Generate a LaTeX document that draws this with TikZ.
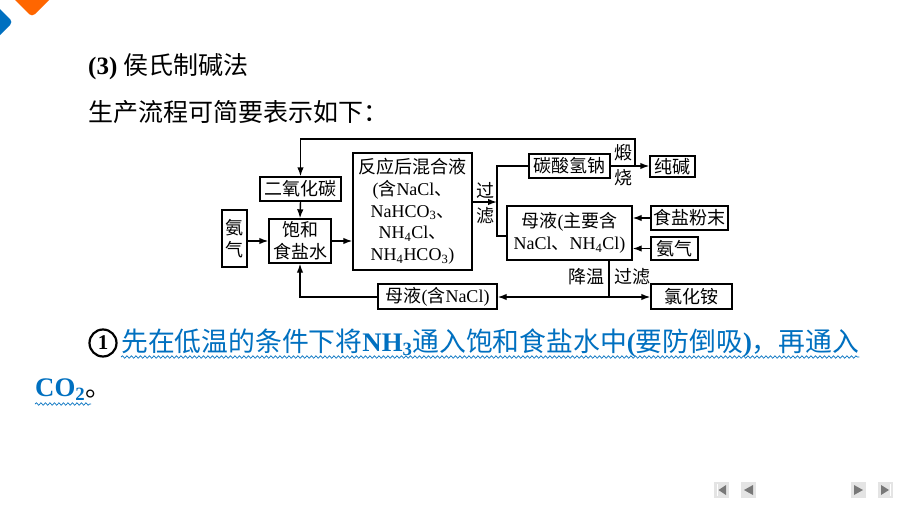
\documentclass[tikz,border=0pt]{standalone}
\usepackage{fontspec}
\setmainfont{Liberation Serif}
\newfontfamily\cjk{Noto Sans CJK SC}
\usetikzlibrary{arrows.meta,decorations.pathmorphing,calc}
\definecolor{hlblue}{RGB}{0,112,192}
\definecolor{logoorange}{RGB}{255,102,0}
\definecolor{logoblue}{RGB}{0,112,192}
\definecolor{navfill}{RGB}{228,228,228}
\definecolor{navtri}{RGB}{120,120,120}
\newcommand\zh[1]{{\cjk #1}}
\newcommand\dfont{\fontsize{18}{21.7}\selectfont}
\begin{document}
\begin{tikzpicture}[x=1pt,y=-1pt,
  box/.style={draw, line width=1.4pt, inner sep=0pt, font=\dfont, align=center},
  arr/.style={line width=1.4pt, -{Latex[length=9pt,width=6.5pt]}},
  ln/.style={line width=1.4pt},
  lbl/.style={inner sep=0pt, font=\dfont, align=center},
  navbtn/.style={fill=navfill, minimum width=15pt, minimum height=16pt, inner sep=0pt},
  wave/.style={hlblue, line width=0.7pt, decorate, decoration={snake, amplitude=1.2pt, segment length=4.5pt}}]
\useasboundingbox (0,0) rectangle (900,506);
\clip (0,0) rectangle (900,506);
\fill[white] (0,0) rectangle (900,506);
% logo
\fill[logoorange, rounded corners=4pt] (32,17) -- (10,-5) -- (32,-27) -- (54,-5) -- cycle;
\fill[logoblue, rounded corners=4pt] (13,22) -- (-3,6) -- (-19,22) -- (-3,38) -- cycle;
% headings
\node[anchor=west, inner sep=0pt, font=\fontsize{25}{25}\selectfont] (h1) at (88,67) {\textbf{(3)} \zh{侯氏制碱法}};
\node[anchor=west, inner sep=0pt, font=\fontsize{25}{25}\selectfont] (h2) at (88,112) {\zh{生产流程可简要表示如下：}};
% diagram nodes
\node[box, minimum width=81pt, minimum height=24pt] (co2) at (300.5,189) {\zh{二氧化碳}};
\node[box, minimum width=25pt, minimum height=57pt] (nh3a) at (234.5,238.5) {\zh{氨}\\\zh{气}};
\node[box, minimum width=62pt, minimum height=44pt] (brine) at (300,241) {\zh{饱和}\\\zh{食盐水}};
\node[box, minimum width=119pt, minimum height=117pt] (mix) at (412.5,211.5) {\zh{反应后混合液}\\(\zh{含}NaCl\zh{、}\\NaHCO\textsubscript{3}\zh{、}\\NH\textsubscript{4}Cl\zh{、}\\NH\textsubscript{4}HCO\textsubscript{3})};
\node[box, minimum width=81pt, minimum height=24pt] (nahco3) at (569.5,166) {\zh{碳酸氢钠}};
\node[box, minimum width=45pt, minimum height=21pt] (soda) at (672.5,166.5) {\zh{纯碱}};
\node[box, minimum width=125pt, minimum height=54pt] (mom1) at (569.5,233) {\zh{母液}(\zh{主要含}\\NaCl\zh{、}NH\textsubscript{4}Cl)};
\node[box, minimum width=77pt, minimum height=24pt] (salt) at (689.5,218) {\zh{食盐粉末}};
\node[box, minimum width=47pt, minimum height=23pt] (nh3b) at (674.5,248.5) {\zh{氨气}};
\node[box, minimum width=119pt, minimum height=25pt] (mom2) at (437.5,296.5) {\zh{母液}(\zh{含}NaCl)};
\node[box, minimum width=81pt, minimum height=25pt] (nh4cl) at (691.5,296.5) {\zh{氯化铵}};
% labels
\node[lbl] (lguo) at (485,190) {\zh{过}};
\node[lbl] (llv) at (485,216) {\zh{滤}};
\node[lbl] (lduan) at (623,153) {\zh{煅}};
\node[lbl] (lshao) at (623,178) {\zh{烧}};
\node[lbl] (ljw) at (586,277) {\zh{降温}};
\node[lbl] (lgl) at (632,277) {\zh{过滤}};
% junctions
\coordinate (jf) at (497,202);
\coordinate (jt) at (497,166);
\coordinate (jb) at (497,236);
\coordinate (calc) at (635,166);
\coordinate (ctop) at (635,139);
\coordinate (jc) at (609,297);
% connectors
\draw[arr] (nh3a.east |- brine.west) -- (brine.west);
\draw[arr] (brine.east) -- (brine.east -| mix.west);
\draw[arr] (co2.south) -- (brine.north);
\draw[arr] (mix.east |- jf) -- (jf);
\draw[ln] (nahco3.west) -- (jt) -- (jb) -- (jb -| mom1.west);
\draw[arr] (nahco3.east) -- (nahco3.east -| soda.west);
\draw[arr] (calc) -- (ctop) -| (co2.north);
\draw[arr] (salt.west) -- (salt.west -| mom1.east);
\draw[arr] (nh3b.west) -- (nh3b.west -| mom1.east);
\draw[ln] (mom1.south -| jc) -- (jc);
\draw[arr] (jc) -- (jc -| mom2.east);
\draw[arr] (jc) -- (jc -| nh4cl.west);
\draw[arr] (mom2.west |- jc) -| (brine.south);
% note text
\node[circle, draw, line width=2.2pt, minimum size=27pt, inner sep=0pt, font=\bfseries\fontsize{21}{21}\selectfont] (c1) at (103,343) {1};
\node[anchor=west, inner sep=0pt, text=hlblue, font=\fontsize{26.8}{26.8}\selectfont] (t1) at (121,343) {\zh{先在低温的条件下将}\textbf{NH\textsubscript{3}}\zh{通入饱和食盐水中}\textbf{(}\zh{要防倒吸}\textbf{)}\zh{，再通入}};
\node[anchor=west, inner sep=0pt, font=\fontsize{26.8}{26.8}\selectfont] (t2) at (35,390) {\textcolor{hlblue}{\textbf{CO\textsubscript{2}}}\zh{。}};
\draw[wave] ($(t1.west)+(0,14)$) -- ($(t1.east)+(0,14)$);
\draw[wave] ($(t2.west)+(0,14)$) -- ($(t2.west)+(56,14)$);
% navigation buttons
\node[navbtn] (nb1) at (721.5,490) {};
\node[navbtn] (nb2) at (748.5,490) {};
\node[navbtn] (nb3) at (858.5,490) {};
\node[navbtn] (nb4) at (885.5,490) {};
\draw[white, line width=1pt] (717,484) -- (717,496);
\fill[navtri] (718.5,490) -- (726,485) -- (726,495) -- cycle;
\fill[navtri] (744,490) -- (753,485) -- (753,495) -- cycle;
\fill[navtri] (854,485) -- (854,495) -- (863,490) -- cycle;
\fill[navtri] (881,485) -- (881,495) -- (889,490) -- cycle;
\draw[white, line width=1pt] (890.5,484) -- (890.5,496);
\end{tikzpicture}
\end{document}
